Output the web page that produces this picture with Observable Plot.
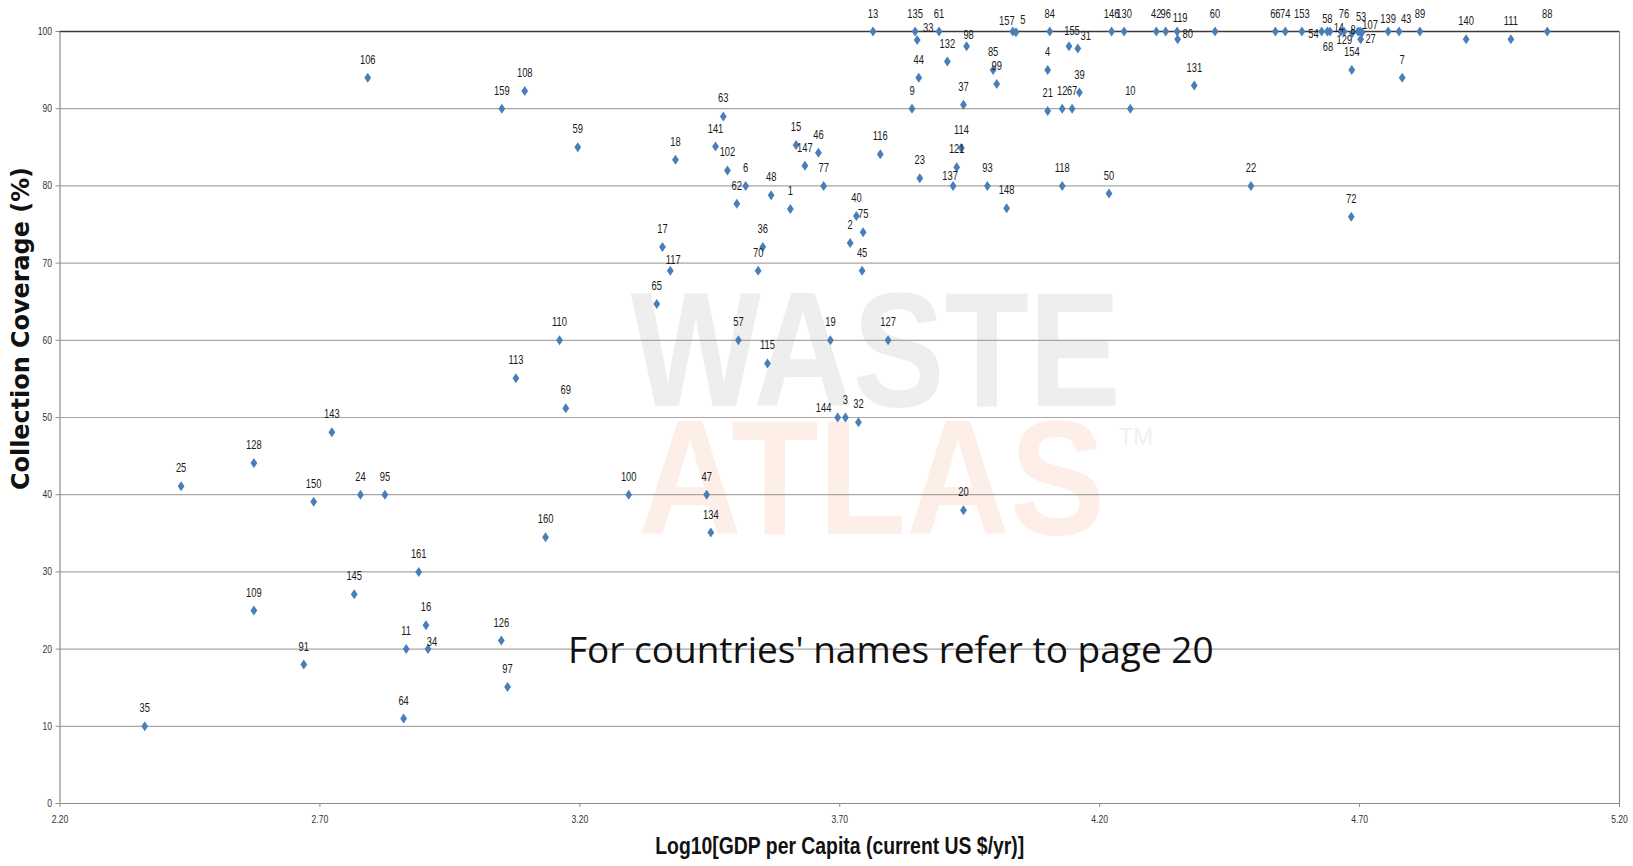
<!DOCTYPE html>
<html>
<head>
<meta charset="utf-8">
<script src="https://cdn.jsdelivr.net/npm/d3@7"></script>
<script src="https://cdn.jsdelivr.net/npm/@observablehq/plot@0.6"></script>
<style>
  html, body { margin: 0; padding: 0; background: #fff; }
  #chart svg { display: block; }
</style>
</head>
<body>
<div id="chart"></div>
<script>
// Country ids (see page 20 of the source for names)
const ids = [106,108,159,59,110,113,69,143,128,25,150,24,95,160,161,145,109,16,11,34,126,91,97,64,35,
  9,63,141,18,102,6,62,48,1,15,147,46,77,116,40,75,2,45,17,36,117,70,65,57,19,127,115,23,144,3,32,100,47,134,
  44,99,85,37,21,12,67,39,10,131,114,121,137,93,148,118,50,22,72,20,
  13,135,33,61,132,98,157,5,84,4,155,31,146,130,42,96,119,80,60,
  66,74,153,54,58,68,14,76,129,8,53,107,27,154,139,43,7,89,140,111,88];
// Log10[GDP per capita (current US$/yr)]
const logGdp = [2.792,3.094,3.050,3.196,3.161,3.077,3.173,2.723,2.573,2.433,2.688,2.778,2.825,3.134,2.890,2.766,2.573,2.904,2.866,2.908,3.049,2.669,3.061,2.861,2.363,
  3.839,3.476,3.461,3.384,3.484,3.519,3.502,3.568,3.605,3.616,3.633,3.659,3.669,3.778,3.732,3.745,3.720,3.743,3.359,3.552,3.374,3.543,3.348,3.505,3.682,3.793,3.561,3.854,3.696,3.711,3.736,3.294,3.444,3.452,
  3.852,4.002,3.995,3.938,4.100,4.128,4.147,4.161,4.259,4.382,3.934,3.925,3.918,3.984,4.021,4.128,4.218,4.491,4.684,3.938,
  3.764,3.845,3.849,3.891,3.907,3.944,4.033,4.039,4.104,4.100,4.141,4.158,4.223,4.247,4.309,4.327,4.349,4.350,4.422,
  4.538,4.557,4.589,4.627,4.638,4.643,4.664,4.670,4.686,4.697,4.701,4.705,4.702,4.685,4.755,4.776,4.782,4.816,4.905,4.991,5.061];
// Collection coverage (%)
const coverage = [94.0,92.3,90.0,85.0,60.0,55.1,51.2,48.1,44.1,41.1,39.1,40.0,40.0,34.5,30.0,27.1,25.0,23.1,20.0,20.0,21.1,18.0,15.1,11.0,10.0,
  90.0,89.0,85.1,83.4,82.0,80.0,77.7,78.8,77.0,85.3,82.6,84.3,80.0,84.1,76.1,74.0,72.6,69.0,72.1,72.1,69.0,69.0,64.7,60.0,60.0,60.0,57.0,81.0,50.0,50.0,49.4,40.0,40.0,35.1,
  94.0,93.2,95.0,90.5,89.7,90.0,90.0,92.1,90.0,93.0,84.9,82.4,80.0,80.0,77.1,80.0,79.0,80.0,76.0,38.0,
  100,100,98.9,100,96.1,98.1,100,99.9,100,95.0,98.1,97.8,100,100,100,100,100,99.0,100,
  100,100,100,100,100,100,100,100,99.8,100,100,99.9,99.0,95.0,100,100,94.0,100,99.0,99.0,100];

const xTicks = [2.20, 2.70, 3.20, 3.70, 4.20, 4.70, 5.20];
const yTicks = [0, 10, 20, 30, 40, 50, 60, 70, 80, 90, 100];

// label nudges for crowded points (layout only)
const labelNudge = {
  "54": [-3, 2, "end"], "33": [11, -12], "5": [7, -12], "157": [-6, -11], "155": [3, -15],
  "31": [8, -12], "80": [10, -5], "119": [3, -14], "137": [-3, -10], "98": [2, -11],
  "58": [0, -13], "68": [-2, 15], "14": [-2, -4], "53": [1, -15], "8": [-5, -2],
  "107": [8, -7], "129": [-8, 7], "27": [10, 0], "139": [0, -13], "43": [7, -13],
  "117": [3, -11], "144": [-14, -10], "34": [4, -7]
};

const pts = ids.map((id, i) => ({id: String(id), x: logGdp[i], y: coverage[i]}));

const tallDiamond = {
  draw(ctx, size) {
    const r = Math.sqrt(size / Math.PI);
    ctx.moveTo(0, -r * 1.25);
    ctx.lineTo(r * 0.85, 0);
    ctx.lineTo(0, r * 1.25);
    ctx.lineTo(-r * 0.85, 0);
    ctx.closePath();
  }
};

const sans = "'Liberation Sans', Arial, sans-serif";
const LABEL_FS = 12.5, TICK_FS = 11;

const labelMarks = [
  Plot.text(pts, {filter: d => !(d.id in labelNudge), x: "x", y: "y", text: "id", dy: -18,
    fontSize: LABEL_FS, fill: "#1a1a1a", fontFamily: sans}),
  ...Object.entries(labelNudge).map(([id, [dx, dy, anchor]]) =>
    Plot.text(pts, {filter: d => d.id === id, x: "x", y: "y", text: "id", dx, dy,
      textAnchor: anchor || "middle", fontSize: LABEL_FS, fill: "#1a1a1a", fontFamily: sans}))
];

const X_TITLE = "Log10[GDP per Capita (current US $/yr)]";
const Y_TITLE = "Collection Coverage (%)";

const chart = Plot.plot({
  width: 1633,
  height: 866,
  marginLeft: 59.5,
  marginRight: 14,
  marginTop: 31,
  marginBottom: 63,
  style: {fontFamily: sans, fontSize: "11px", color: "#333", background: "#fff"},
  x: {domain: [2.2, 5.2]},
  y: {domain: [0, 100]},
  marks: [
    // faint watermark
    Plot.text(["WASTE"], {frameAnchor: "middle", text: d => d, dx: 36, dy: -64, fontSize: 163,
      fontWeight: "bold", fontFamily: sans, fill: "#eeeeee"}),
    Plot.text(["ATLAS"], {frameAnchor: "middle", text: d => d, dx: 32, dy: 64, fontSize: 163,
      fontWeight: "bold", fontFamily: sans, fill: "#fdefe8"}),
    Plot.text(["TM"], {frameAnchor: "middle", text: d => d, dx: 296, dy: 20, fontSize: 24,
      fontFamily: sans, fill: "#f1f1f1"}),
    Plot.ruleY(yTicks.filter(v => v > 0 && v < 100), {stroke: "#a6a6a6", strokeWidth: 1.2}),
    Plot.ruleX([2.2, 5.2], {stroke: "#8c8c8c", strokeWidth: 1.2}),
    Plot.ruleY([0], {stroke: "#8c8c8c", strokeWidth: 1.2}),
    Plot.ruleY([100], {stroke: "#3a3a3a", strokeWidth: 1.5}),
    Plot.axisX({ticks: xTicks, tickFormat: d3.format(".2f"), tickSize: 4, tickPadding: 8,
      label: null, stroke: "#8c8c8c", fill: "#333", fontSize: TICK_FS}),
    Plot.axisY({ticks: yTicks, tickSize: 4, tickPadding: 4, label: null, stroke: "#8c8c8c",
      fill: "#333", fontSize: TICK_FS}),
    Plot.dot(pts, {x: "x", y: "y", symbol: tallDiamond, r: 4, fill: "#4a7ebb", stroke: "none"}),
    ...labelMarks,
    Plot.text(["For countries' names refer to page 20"], {frameAnchor: "middle", text: d => d,
      dx: 51, dy: 234, fontSize: 37, fontFamily: "'Open Sans', sans-serif", fill: "#111"}),
    Plot.text([Y_TITLE], {frameAnchor: "left", textAnchor: "middle", text: d => d, rotate: -90,
      dx: -38.5, dy: -89, fontSize: 24, fontWeight: "bold", fontFamily: "'DejaVu Sans', sans-serif",
      fill: "#111"}),
    Plot.text([X_TITLE], {frameAnchor: "bottom", text: d => d,
      dy: 50, fontSize: 24, fontWeight: "bold", fontFamily: sans, fill: "#111"})
  ]
});

document.getElementById("chart").appendChild(chart);

// condense texts horizontally (the reference uses a condensed face)
function squeeze(el, s) {
  const tr = el.getAttribute("transform");
  if (tr) {
    el.setAttribute("transform", tr + ` scale(${s},1)`);
  } else {
    const x = +el.getAttribute("x") || 0, y = +el.getAttribute("y") || 0;
    el.removeAttribute("x"); el.removeAttribute("y");
    el.setAttribute("transform", `translate(${x},${y}) scale(${s},1)`);
  }
}
function fitLength(el, len) {
  el.setAttribute("textLength", len);
  el.setAttribute("lengthAdjust", "spacingAndGlyphs");
}
const fitTo = {[X_TITLE]: 369, [Y_TITLE]: 323, "WASTE": 490, "ATLAS": 467};
for (const t of chart.querySelectorAll("text")) {
  const fs = parseFloat(getComputedStyle(t).fontSize);
  const content = t.textContent;
  if (content in fitTo) fitLength(t, fitTo[content]);
  else if (Math.abs(fs - LABEL_FS) < 0.01) squeeze(t, 0.75);
  else if (Math.abs(fs - TICK_FS) < 0.01) squeeze(t, 0.78);
}
</script>
</body>
</html>
